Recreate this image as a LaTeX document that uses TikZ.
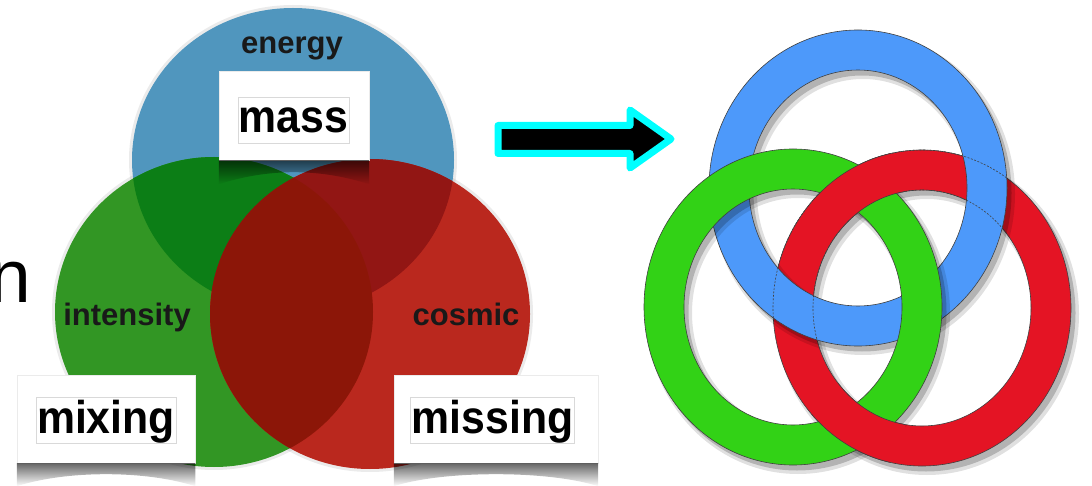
\documentclass[tikz,border=0pt]{standalone}
\usepackage{fontspec}
\setmainfont{Liberation Sans}
\newfontfamily\cardfont{Liberation Sans}[FakeStretch=0.93]
\usetikzlibrary{fadings, positioning}
\definecolor{vennblue}{RGB}{80,150,190}
\definecolor{venngreen}{RGB}{50,150,36}
\definecolor{vennred}{RGB}{186,40,30}
\definecolor{bluegreen}{RGB}{12,126,22}
\definecolor{bluered}{RGB}{146,22,20}
\definecolor{greenred}{RGB}{140,22,8}
\definecolor{ringblue}{RGB}{77,153,250}
\definecolor{ringgreen}{RGB}{50,210,22}
\definecolor{ringred}{RGB}{228,20,36}
\definecolor{arrowcyan}{RGB}{0,255,255}

\begin{document}
\begin{tikzpicture}[x=1pt, y=-1pt,
  vlabel/.style={font=\fontsize{31}{31}\selectfont\bfseries, text=black!90, inner sep=0pt, anchor=base},
  halo/.style={draw=black, line width=6pt, opacity=0.08},
  card/.style={fill=white, draw=black!8, minimum width=#1, minimum height=88pt, inner sep=0pt},
  word/.style={font=\cardfont\bfseries\fontsize{46}{46}\selectfont, draw=black!15, line width=0.4pt, inner sep=1pt, text height=35pt, text depth=9pt, anchor=base},
  curl/.style={fill=black, opacity=0.6, path fading=south},
  ring/.style={line width=40pt, draw=#1},
  ringshade/.style={line width=46pt, draw=black, opacity=0.12},
  ringshadow/.style={line width=41pt, draw=black, opacity=0.2},
  rim/.style={line width=0.6pt, draw=black!75},
  seam/.style={rim, dash pattern=on 2pt off 1.5pt},
  flowarrow/.style={draw=arrowcyan, fill=black, line width=7pt, line join=round}
]
\useasboundingbox (0,0) rectangle (1092,486);

% venn diagram
\coordinate (vb) at (293,160);
\coordinate (vg) at (214,312);
\coordinate (vr) at (370,314);
\draw[halo] (vb) ellipse [x radius=161, y radius=152];
\draw[halo] (vg) ellipse [x radius=159, y radius=155];
\draw[halo] (vr) ellipse [x radius=160, y radius=155];
\fill[vennblue] (vb) ellipse [x radius=161, y radius=152];
\fill[venngreen] (vg) ellipse [x radius=159, y radius=155];
\fill[vennred] (vr) ellipse [x radius=160, y radius=155];
\begin{scope}
  \clip (vb) ellipse [x radius=161, y radius=152];
  \fill[bluegreen] (vg) ellipse [x radius=159, y radius=155];
  \fill[bluered] (vr) ellipse [x radius=160, y radius=155];
\end{scope}
\begin{scope}
  \clip (vg) ellipse [x radius=159, y radius=155];
  \fill[greenred] (vr) ellipse [x radius=160, y radius=155];
\end{scope}

\node[font=\fontsize{75}{75}\selectfont, anchor=base east, inner sep=0pt] (cutword) at (31,302) {n};

\node[vlabel] (energy) at (292,54) {energy};
\node[vlabel] (intensity) at (127,325) {intensity};
\node[vlabel] (cosmic) at (466,325) {cosmic};

% cards with their curled shadows
\node[card=150pt, minimum height=89pt] (masscard) at (294,115.5) {};
\node[card=178pt] (mixcard) at (106,419) {};
\node[card=204pt] (misscard) at (496,419) {};
\foreach \c/\d in {masscard/24, mixcard/23, misscard/23} {
  \fill[curl] (\c.south west) -- (\c.south east) -- ([yshift=-\d pt]\c.south east)
    .. controls +(-50,-16) and +(50,-16) .. ([yshift=-\d pt]\c.south west) -- cycle;
}
\node[word] (mass) at (293.5,133) {mass};
\node[word] (mixing) at (106,433) {mixing};
\node[word] (missing) at (492.5,433) {missing};

% block arrow
\draw[flowarrow] (498,125.5) -- (630,125.5) -- (630,110) -- (671,139)
  -- (630,168) -- (630,153.5) -- (498,153.5) -- cycle;

% borromean rings
\coordinate (cb) at (858,188);
\coordinate (cg) at (793,307);
\coordinate (cr) at (922,308);

\draw[ringshade] ([shift={(5,6)}]cr) ellipse [x radius=129, y radius=138];
\draw[ringshadow] ([shift={(4,5)}]cr) ellipse [x radius=129, y radius=138];
\draw[ring=ringred] (cr) ellipse [x radius=129, y radius=138];
\draw[rim] (cr) ellipse [x radius=149, y radius=158] (cr) ellipse [x radius=109, y radius=118];

\draw[ringshade] ([shift={(5,6)}]cb) ellipse [x radius=129, y radius=138];
\draw[ringshadow] ([shift={(4,5)}]cb) ellipse [x radius=129, y radius=138];
\draw[ring=ringblue] (cb) ellipse [x radius=129, y radius=138];
\draw[rim] (cb) ellipse [x radius=149, y radius=158] (cb) ellipse [x radius=109, y radius=118];
\begin{scope}
  \clip (cb) ellipse [x radius=149, y radius=158];
  \draw[seam] (cr) ellipse [x radius=149, y radius=158] (cr) ellipse [x radius=109, y radius=118];
\end{scope}

\draw[ringshade] ([shift={(5,6)}]cg) ellipse [x radius=129, y radius=138];
\draw[ringshadow] ([shift={(4,5)}]cg) ellipse [x radius=129, y radius=138];
\draw[ring=ringgreen] (cg) ellipse [x radius=129, y radius=138];
\draw[rim] (cg) ellipse [x radius=149, y radius=158] (cg) ellipse [x radius=109, y radius=118];

% red passes over green twice
\foreach \p in {(857.5,188), (857.5,427)} {
  \begin{scope}
    \clip \p circle (48);
    \draw[ring=ringred] (cr) ellipse [x radius=129, y radius=138];
    \draw[rim] (cr) ellipse [x radius=149, y radius=158] (cr) ellipse [x radius=109, y radius=118];
  \end{scope}
}
\end{tikzpicture}
\end{document}
